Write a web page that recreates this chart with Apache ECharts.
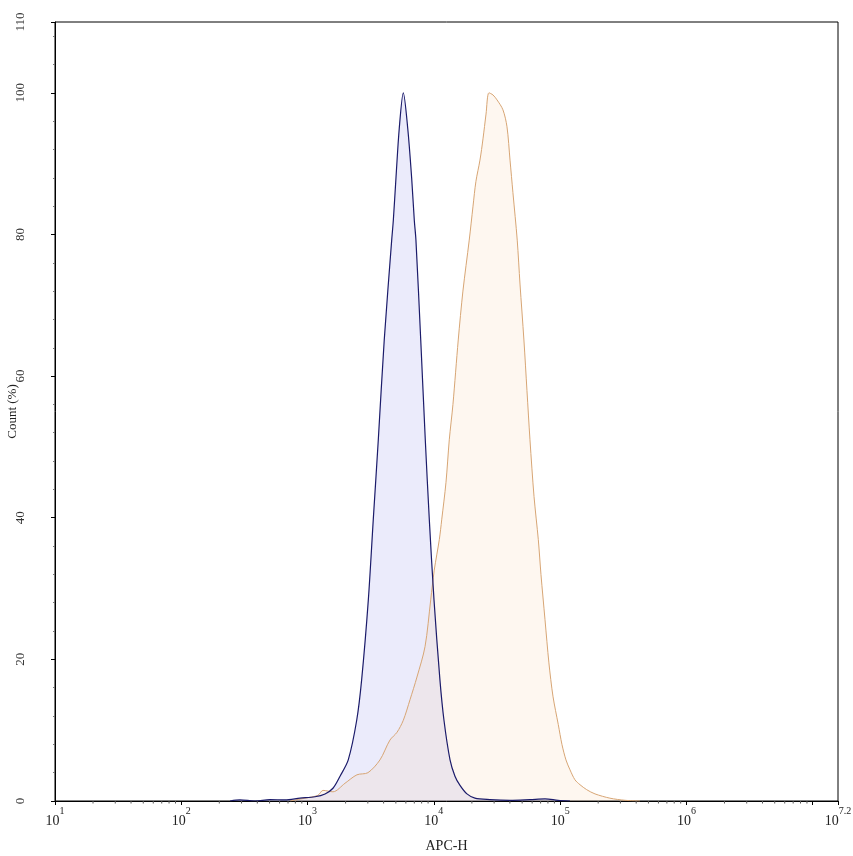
<!DOCTYPE html>
<html><head><meta charset="utf-8">
<script src="https://cdn.jsdelivr.net/npm/echarts@6/dist/echarts.min.js"></script>
<style>html,body{margin:0;padding:0;background:#fff}#c{width:853px;height:856px}</style>
</head><body><div id="c"></div>
<script>
// x values are log10(APC-H)
const blueLogX = [2.386,2.465,2.584,2.702,2.821,2.940,3.059,3.138,3.201,3.257,3.322,3.389,3.428,3.481,3.520,3.560,3.607,3.666,3.679,3.700,3.726,3.758,3.793,3.824,3.845,3.858,3.896,3.932,3.964,4.001,4.048,4.080,4.128,4.167,4.207,4.262,4.325,4.444,4.603,4.761,4.880,4.983,5.078];
const blueCount = [0,0.15,0,0.2,0.15,0.4,0.6,1,1.8,3.5,5.8,11.4,17.1,28.4,39.7,51,65.1,79.2,82,88,95,100,95,88,82,79.2,65.1,51,39.7,28.4,17.1,11.4,5.8,3.5,2.2,1,0.4,0.2,0.1,0.2,0.3,0.1,0];
const orangeLogX = [2.861,2.979,3.082,3.122,3.201,3.296,3.391,3.478,3.573,3.652,3.708,3.758,3.811,3.866,3.930,3.975,4.003,4.043,4.062,4.096,4.122,4.151,4.193,4.230,4.280,4.310,4.333,4.365,4.389,4.413,4.436,4.468,4.500,4.547,4.579,4.603,4.626,4.660,4.682,4.713,4.737,4.761,4.793,4.827,4.848,4.880,4.911,4.943,4.985,5.014,5.046,5.078,5.117,5.157,5.210,5.276,5.394,5.513,5.632];
const orangeCount = [0,0.4,0.8,1.5,1.3,2.5,3.7,4,5.8,8.6,9.7,11.4,14.3,17.5,21.8,28.4,32.6,36.9,39.7,45,51,56,65.1,72,79.2,84,87.5,90.5,93.5,97,100,99.7,99,97.6,95.2,90.5,85.9,79.2,73,65.1,58,51,43,36.9,32,25.6,19.5,14.8,10.8,8,5.8,4.4,3,2.3,1.6,1,0.4,0.1,0];
const xDecades = [1,2,3,4,5,6,7];
const xMinorMultipliers = [2,3,4,5,6,7,8,9];
const xTickLabels = {1:'1',2:'2',3:'3',4:'4',5:'5',6:'6',7:'',7.2:'7.2'};
const xMin = 1, xMax = 7.2;

const minorTicks = [];
xDecades.forEach(d => xMinorMultipliers.forEach(m => {
  const v = d + Math.log10(m);
  if (v <= xMax) minorTicks.push([v, 0]);
}));

const chart = echarts.init(document.getElementById('c'), null, {renderer:'canvas'});
const serif = '"Liberation Serif","DejaVu Serif",serif';
chart.setOption({
  animation:false,
  backgroundColor:'#fff',
  grid:{left:55,right:15,top:22,bottom:55,outerBoundsMode:'none',containLabel:false,show:true,borderColor:'#000',borderWidth:1,backgroundColor:'transparent'},
  xAxis:{type:'value',min:xMin,max:xMax,interval:1,
    name:'APC-H',nameLocation:'middle',nameGap:38,nameMoveOverlap:false,
    nameTextStyle:{fontFamily:serif,fontSize:14,color:'#222'},
    axisLine:{lineStyle:{color:'#000',width:1}},
    axisTick:{show:true,length:4,lineStyle:{color:'#000'}},
    splitLine:{show:false},
    axisLabel:{showMinLabel:true,showMaxLabel:true,margin:5,
      formatter:v=>{const e=xTickLabels[Math.round(v*10)/10]; return e?'{b|10}{s|'+e+'}':'';},
      rich:{b:{fontFamily:serif,fontSize:14,color:'#222',lineHeight:22,verticalAlign:'bottom'},
            s:{fontFamily:serif,fontSize:10,color:'#222',lineHeight:22,verticalAlign:'top'}}}
  },
  yAxis:{type:'value',min:0,max:110,interval:20,
    name:'Count (%)',nameLocation:'middle',nameGap:36,nameRotate:90,nameMoveOverlap:false,
    nameTextStyle:{fontFamily:serif,fontSize:13,color:'#222'},
    axisLine:{show:true,lineStyle:{color:'#000',width:1}},
    axisTick:{show:true,length:4,lineStyle:{color:'#000'}},
    minorTick:{show:true,splitNumber:5,length:2,lineStyle:{color:'#777'}},
    splitLine:{show:false},
    axisLabel:{rotate:90,margin:28,fontFamily:serif,fontSize:13,color:'#333',showMaxLabel:true}
  },
  series:[
    {type:'line',data:blueLogX.map((x,i)=>[x,blueCount[i]]),showSymbol:false,smooth:0.3,
      lineStyle:{width:0},areaStyle:{color:'rgba(175,175,240,0.36)'},z:2},
    {type:'line',data:orangeLogX.map((x,i)=>[x,orangeCount[i]]),showSymbol:false,smooth:0.3,
      lineStyle:{color:'#d7a574',width:1},areaStyle:{color:'rgba(248,212,170,0.25)'},z:3},
    {type:'line',data:blueLogX.map((x,i)=>[x,blueCount[i]]),showSymbol:false,smooth:0.3,
      lineStyle:{color:'#1b1b6a',width:1.2},z:4,silent:true},
    {type:'custom',data:minorTicks,clip:false,silent:true,z:5,
      renderItem:(params,api)=>{const p=api.coord([api.value(0),0]);
        return {type:'line',shape:{x1:p[0],y1:p[1],x2:p[0],y2:p[1]+2.5},style:{stroke:'#555',lineWidth:1}};}}
  ]
});
</script></body></html>
